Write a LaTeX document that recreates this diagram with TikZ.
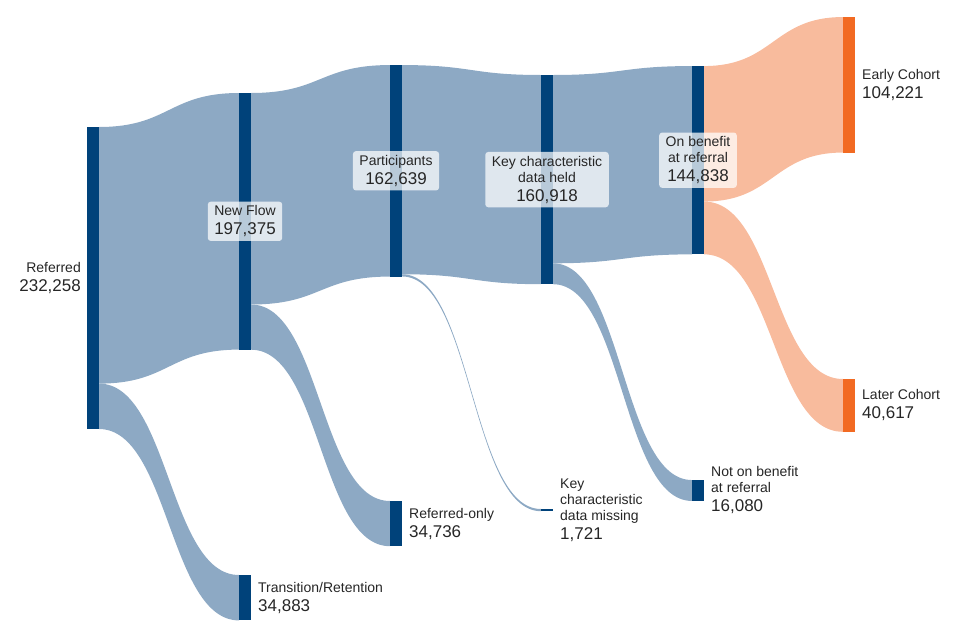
\documentclass[tikz,border=0pt]{standalone}
\usepackage{fontspec}
\setmainfont{Liberation Sans}
\usepackage{tikz}
\usetikzlibrary{positioning}
\usetikzlibrary{calc}
\usetikzlibrary{backgrounds}

\definecolor{barblue}{HTML}{00427A}
\definecolor{linkblue}{HTML}{8DA9C4}
\definecolor{barorange}{HTML}{F26A22}
\definecolor{linkorange}{HTML}{F8BB9D}

\newcommand{\namefont}{\fontsize{14}{16}\selectfont}
\newcommand{\numfont}{\fontsize{17}{19}\selectfont}

% band from node #1 (offset #2) to node #3 (offset #4), width #5, colour #6
\newcommand{\flow}[6]{%
  \fill[#6] ($(#1.north east)+(0,#2)$)
    .. controls +(70,0) and +(-70,0) .. ($(#3.north west)+(0,#4)$)
    -- ++(0,#5)
    .. controls +(-70,0) and +(70,0) .. ($(#1.north east)+(0,{#2+#5})$)
    -- cycle;}

\tikzset{
  bar/.style={rectangle, fill=#1, minimum width=12pt, inner sep=0pt, outer sep=0pt},
  bar/.default=barblue,
  tag/.style={inner sep=0pt, font=\namefont, text=black!85},
  box/.style={tag, fill=white, fill opacity=0.72, text opacity=1,
    rounded corners=3pt, inner xsep=6.5pt, inner ysep=4pt, align=center},
}

\begin{document}
\begin{tikzpicture}[x=1pt,y=-1pt]
        \useasboundingbox (0,0) rectangle (960,640);
        % Nodes
        \node[bar, minimum height=302pt]   (ref)     at (93,278)    {};
        \node[bar, minimum height=256.6pt] (new)     at (245,221.3) {};
        \node[bar, minimum height=45.4pt]  (trans)   at (245,597.7) {};
        \node[bar, minimum height=211.5pt] (part)    at (396,170.8) {};
        \node[bar, minimum height=45.2pt]  (refonly) at (396,523.6) {};
        \node[bar, minimum height=209.2pt] (held)    at (547,179.6) {};
        \node[bar, minimum height=2.2pt]   (miss)    at (547,510.1) {};
        \node[bar, minimum height=188.3pt] (onben)   at (698,160.2) {};
        \node[bar, minimum height=20.9pt]  (notben)  at (698,490.5) {};
        \node[bar=barorange, minimum height=135.5pt] (early) at (849,84.8)  {};
        \node[bar=barorange, minimum height=52.8pt]  (later) at (849,405.4) {};

        % Links
        \begin{scope}[on background layer]
        \flow{ref}{0}{new}{0}{256.6}{linkblue}
        \flow{ref}{256.6}{trans}{0}{45.4}{linkblue}
        \flow{new}{0}{part}{0}{211.5}{linkblue}
        \flow{new}{211.5}{refonly}{0}{45.2}{linkblue}
        \flow{part}{0}{held}{0}{209.2}{linkblue}
        \flow{part}{209.2}{miss}{0}{2.2}{linkblue}
        \flow{held}{0}{onben}{0}{188.3}{linkblue}
        \flow{held}{188.3}{notben}{0}{20.9}{linkblue}
        \flow{onben}{0}{early}{0}{135.5}{linkorange}
        \flow{onben}{135.5}{later}{0}{52.8}{linkorange}
        \end{scope}

        % Labels
        \node[tag, align=right, left=6pt of ref] (refL) {Referred\\[3pt]\numfont 232,258};
        \node[box] (newL)   at (new)   {New Flow\\[3pt]\numfont 197,375};
        \node[box] (partL)  at (part)  {Participants\\[3pt]\numfont 162,639};
        \node[box] (heldL)  at (held)  {Key characteristic\\data held\\[3pt]\numfont 160,918};
        \node[box] (onbenL) at (onben) {On benefit\\at referral\\[3pt]\numfont 144,838};
        \node[tag, align=left, right=7pt of trans]   (transL)   {Transition/Retention\\[3pt]\numfont 34,883};
        \node[tag, align=left, right=7pt of refonly] (refonlyL) {Referred-only\\[3pt]\numfont 34,736};
        \node[tag, align=left, right=7pt of miss]    (missL)    {Key\\characteristic\\data missing\\[3pt]\numfont 1,721};
        \node[tag, align=left, right=7pt of notben]  (notbenL)  {Not on benefit\\at referral\\[3pt]\numfont 16,080};
        \node[tag, align=left, right=7pt of early]   (earlyL)   {Early Cohort\\[3pt]\numfont 104,221};
        \node[tag, align=left, right=7pt of later]   (laterL)   {Later Cohort\\[3pt]\numfont 40,617};
    \end{tikzpicture}
\end{document}
